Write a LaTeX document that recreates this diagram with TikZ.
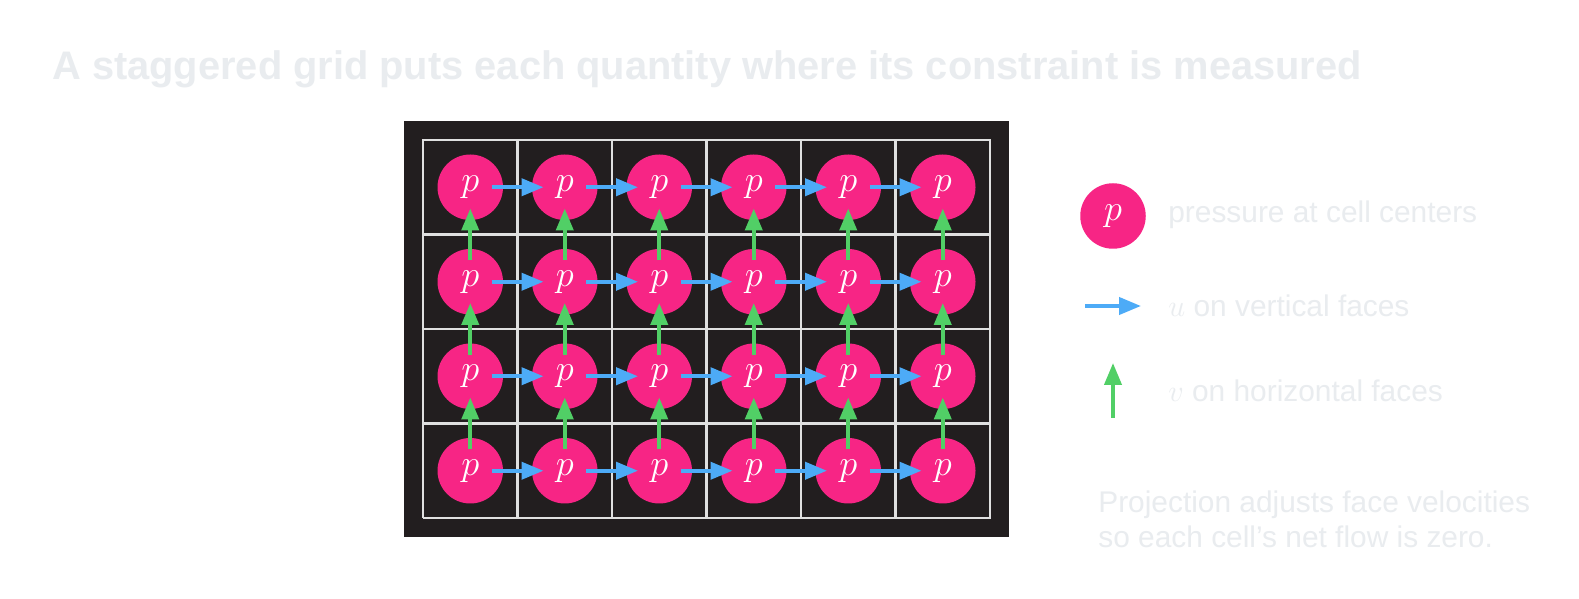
\documentclass[tikz,border=0pt]{standalone}
\usepackage{fontspec}
\setmainfont{Liberation Sans}
\usetikzlibrary{arrows.meta,positioning,shapes}
\definecolor{gridbg}{HTML}{221E1F}
\definecolor{ppink}{HTML}{F72585}
\definecolor{ublue}{HTML}{4DABF7}
\definecolor{vgreen}{HTML}{51CF66}
\definecolor{faint}{HTML}{E9ECEF}
\definecolor{gridline}{HTML}{E0E0E0}
\tikzstyle{pnode} = [circle, fill=ppink, minimum size=1.31cm, inner sep=0pt, text=white, font=\fontsize{20}{24}\selectfont]
\tikzstyle{uarrow} = [ublue, line width=2.3pt, -{Triangle[length=0.44cm,width=0.34cm]}]
\tikzstyle{varrow} = [vgreen, line width=2.3pt, -{Triangle[length=0.44cm,width=0.34cm]}]
\tikzstyle{face} = [shorten <=0.425cm, shorten >=0.425cm]
\tikzstyle{legtext} = [anchor=base west, inner sep=0pt, text=faint, font=\fontsize{17}{20.4}\selectfont]

\begin{document}
\begin{tikzpicture}
\fill [white] (0,0) rectangle (31.58,11.98);
\useasboundingbox (0,0) rectangle (31.58,11.98);
\node (title) [anchor=base west, inner sep=0pt, text=faint, font=\fontsize{22.65}{27}\selectfont\bfseries] at (1.04,10.38) {A staggered grid puts each quantity where its constraint is measured};
\fill [gridbg] (8.08,1.24) rectangle (20.18,9.56);
\draw [gridline, line width=1.3pt, shift={(8.46,1.62)}] (0,0) grid[step=1.89] (11.35,7.57);
%
\draw (9.405,2.565) node (p11) [pnode] {$p$};
\draw (11.295,2.565) node (p21) [pnode] {$p$};
\draw (13.185,2.565) node (p31) [pnode] {$p$};
\draw (15.075,2.565) node (p41) [pnode] {$p$};
\draw (16.965,2.565) node (p51) [pnode] {$p$};
\draw (18.855,2.565) node (p61) [pnode] {$p$};
\draw (9.405,4.455) node (p12) [pnode] {$p$};
\draw (11.295,4.455) node (p22) [pnode] {$p$};
\draw (13.185,4.455) node (p32) [pnode] {$p$};
\draw (15.075,4.455) node (p42) [pnode] {$p$};
\draw (16.965,4.455) node (p52) [pnode] {$p$};
\draw (18.855,4.455) node (p62) [pnode] {$p$};
\draw (9.405,6.345) node (p13) [pnode] {$p$};
\draw (11.295,6.345) node (p23) [pnode] {$p$};
\draw (13.185,6.345) node (p33) [pnode] {$p$};
\draw (15.075,6.345) node (p43) [pnode] {$p$};
\draw (16.965,6.345) node (p53) [pnode] {$p$};
\draw (18.855,6.345) node (p63) [pnode] {$p$};
\draw (9.405,8.235) node (p14) [pnode] {$p$};
\draw (11.295,8.235) node (p24) [pnode] {$p$};
\draw (13.185,8.235) node (p34) [pnode] {$p$};
\draw (15.075,8.235) node (p44) [pnode] {$p$};
\draw (16.965,8.235) node (p54) [pnode] {$p$};
\draw (18.855,8.235) node (p64) [pnode] {$p$};
%
\draw [uarrow,face] (p11.center)--(p21.center);
\draw [uarrow,face] (p21.center)--(p31.center);
\draw [uarrow,face] (p31.center)--(p41.center);
\draw [uarrow,face] (p41.center)--(p51.center);
\draw [uarrow,face] (p51.center)--(p61.center);
\draw [uarrow,face] (p12.center)--(p22.center);
\draw [uarrow,face] (p22.center)--(p32.center);
\draw [uarrow,face] (p32.center)--(p42.center);
\draw [uarrow,face] (p42.center)--(p52.center);
\draw [uarrow,face] (p52.center)--(p62.center);
\draw [uarrow,face] (p13.center)--(p23.center);
\draw [uarrow,face] (p23.center)--(p33.center);
\draw [uarrow,face] (p33.center)--(p43.center);
\draw [uarrow,face] (p43.center)--(p53.center);
\draw [uarrow,face] (p53.center)--(p63.center);
\draw [uarrow,face] (p14.center)--(p24.center);
\draw [uarrow,face] (p24.center)--(p34.center);
\draw [uarrow,face] (p34.center)--(p44.center);
\draw [uarrow,face] (p44.center)--(p54.center);
\draw [uarrow,face] (p54.center)--(p64.center);
%
\draw [varrow,face] (p11.center)--(p12.center);
\draw [varrow,face] (p12.center)--(p13.center);
\draw [varrow,face] (p13.center)--(p14.center);
\draw [varrow,face] (p21.center)--(p22.center);
\draw [varrow,face] (p22.center)--(p23.center);
\draw [varrow,face] (p23.center)--(p24.center);
\draw [varrow,face] (p31.center)--(p32.center);
\draw [varrow,face] (p32.center)--(p33.center);
\draw [varrow,face] (p33.center)--(p34.center);
\draw [varrow,face] (p41.center)--(p42.center);
\draw [varrow,face] (p42.center)--(p43.center);
\draw [varrow,face] (p43.center)--(p44.center);
\draw [varrow,face] (p51.center)--(p52.center);
\draw [varrow,face] (p52.center)--(p53.center);
\draw [varrow,face] (p53.center)--(p54.center);
\draw [varrow,face] (p61.center)--(p62.center);
\draw [varrow,face] (p62.center)--(p63.center);
\draw [varrow,face] (p63.center)--(p64.center);
%
\draw (22.26,7.66) node (pleg) [pnode] {$p$};
\node (ptext) [legtext] at (23.36,7.52) {pressure at cell centers};
\coordinate (ua) at (21.70,5.86);
\coordinate (ub) at (22.82,5.86);
\draw [uarrow] (ua)--(ub);
\node (utext) [legtext] at (23.36,5.64) {$u$ on vertical faces};
\coordinate (va) at (22.26,3.62);
\coordinate (vb) at (22.26,4.72);
\draw [varrow] (va)--(vb);
\node (vtext) [legtext] at (23.36,3.94) {$v$ on horizontal faces};
\node (note) [legtext, align=left] at (21.96,1.02) {Projection adjusts face velocities\\so each cell’s net flow is zero.};
\end{tikzpicture}
\end{document}
